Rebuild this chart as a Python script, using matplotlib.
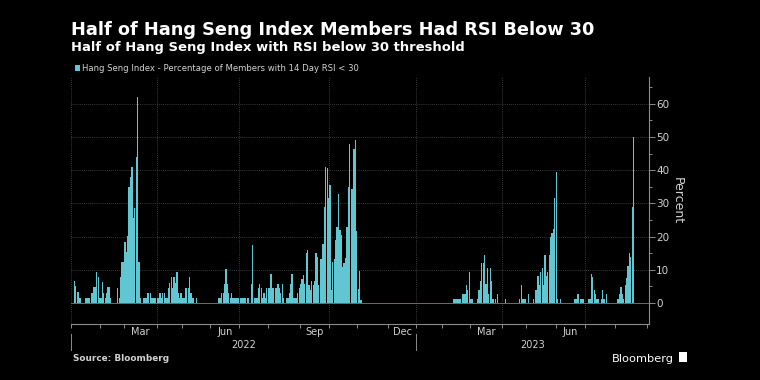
import matplotlib
matplotlib.use("Agg")
import matplotlib.pyplot as plt
import numpy as np
import pandas as pd
from matplotlib.transforms import blended_transform_factory
from matplotlib.patches import Rectangle
from matplotlib.lines import Line2D

# ---------------- data ----------------
hk_holidays = [
    "2022-02-01", "2022-02-02", "2022-02-03", "2022-04-05", "2022-04-15",
    "2022-04-18", "2022-05-02", "2022-05-09", "2022-06-03", "2022-07-01",
    "2022-09-12", "2022-10-04", "2022-12-26", "2022-12-27",
    "2023-01-02", "2023-01-23", "2023-01-24", "2023-01-25", "2023-04-05",
    "2023-04-07", "2023-04-10", "2023-05-01", "2023-05-26", "2023-06-22",
]

jan22 = [0, 0, 6.5, 5, 3.3, 3.3, 1.5, 0, 0, 0, 1.5, 1.5, 1.5, 1.5, 3, 3, 4.7, 4.7, 9.3, 7.8, 1.5]
feb22 = [1.5, 6.3, 3, 1.5, 3, 4.7, 4.7, 1.5, 0, 0, 0, 0, 4.6, 1.5, 7.8, 12.5, 12.5]
mar22 = [18.5, 15.5, 20.3, 35, 38, 41, 25.5, 28.5, 44, 62, 12.2, 1.5, 0, 1.5, 1.5, 1.5, 3, 3, 3,
         1.5, 1.5, 1.5, 1.5]
apr22 = [1.5, 1.5, 3, 1.5, 3, 3, 1.5, 1.5, 4.6, 6.1, 7.7, 4.6, 7.7, 6.1, 9.2, 3, 1.5, 3]
may22 = [1.5, 1.5, 4.6, 4.6, 4.6, 7.7, 3, 1.5, 1.5, 0, 1.5, 0, 0, 0, 0, 0, 0, 0, 0, 0]
jun22 = [0, 0, 0, 0, 0, 0, 1.5, 1.5, 3, 3, 5.8, 10.2, 5.8, 3, 1.5, 3, 1.5, 1.5, 1.5, 1.5, 1.5]
jul22 = [1.5, 1.5, 1.5, 1.5, 1.5, 1.5, 1.5, 0, 5.8, 17.5, 1.5, 1.5, 1.5, 4.5, 5.8, 4.5, 1.5, 3,
         1.5, 4.5]
aug22 = [4.5, 4.5, 8.8, 4.5, 4.5, 4.5, 4.5, 5.8, 4.5, 3, 5.8, 1.5, 0, 1.5, 1.5, 3, 5.8, 8.8, 1.5,
         1.5, 1.5, 3, 4.5]
sep22 = [5.8, 7.3, 8.5, 5.8, 15.2, 16, 5.3, 4, 6.6, 5.3, 6.6, 15, 14, 5.3, 13.4, 13.4, 17.7, 28.8,
         41, 40.6, 31.5]
oct22 = [35.4, 4, 12.4, 13.4, 19, 23, 32.8, 22, 20.4, 10.8, 12, 13.7, 23, 34.8, 48, 34.2, 34.2,
         46.3, 49, 21.7]
nov22 = [4.3, 9.7, 1, 0, 0, 0, 0, 0, 0, 0, 0, 0, 0, 0, 0, 0, 0, 0, 0, 0, 0, 0]
dec22 = [0, 0, 0, 0, 0, 0, 0, 0, 0, 0, 0, 0, 0, 0, 0, 0, 0, 0, 0, 0]
jan23 = [0, 0, 0, 0, 0, 0, 0, 0, 0, 0, 0, 0, 0, 0, 0, 0, 0, 0]
feb23 = [0, 0, 0, 0, 0, 0, 0, 0, 1.3, 1.3, 1.3, 1.3, 1.3, 1.3, 2.7, 2.7, 2.7, 5.3, 4, 9.3]
mar23 = [1.3, 1.3, 0, 0, 0, 1.3, 4, 6.7, 12, 12, 14.6, 5.8, 10.5, 2.7, 10.5, 6.7, 1.3, 0, 1.3,
         2.7, 0, 0, 0]
apr23 = [0, 0, 1.3, 0, 0, 0, 0, 0, 0, 0, 0, 0, 1.3, 5.3, 1.3, 1.3, 1.3]
may23 = [0, 2.7, 0, 0, 0, 1.3, 4, 4, 8, 5.3, 9.3, 10.5, 5.3, 14.6, 8, 9.3, 14.6, 19.8, 21, 22.4,
         31.7]
jun23 = [39.5, 1.3, 0, 1.3, 0, 0, 0, 0, 0, 0, 0, 0, 0, 1.3, 1.3, 2.7, 2.7, 1.3, 1.3, 1.3, 0]
jul23 = [0, 0, 1.3, 1.3, 8.7, 7.7, 4, 2.7, 1.3, 1.3, 0, 1.3, 4, 1.3, 0, 2.7, 0, 0, 0, 0, 0]
aug23 = [0, 0, 1.3, 2.6, 4.8, 2.6, 1.3, 5.3, 7.4, 11, 15, 14, 28.8, 50]

month_labels = ["Mar", "Jun", "Sep", "Dec"]
year_labels = ["2022", "2023"]

title = "Half of Hang Seng Index Members Had RSI Below 30"
subtitle = "Half of Hang Seng Index with RSI below 30 threshold"
legend_label = "Hang Seng Index - Percentage of Members with 14 Day RSI < 30"
source = "Source: Bloomberg"

# ---------------- build ----------------
values = np.array(jan22 + feb22 + mar22 + apr22 + may22 + jun22 + jul22 + aug22 + sep22 + oct22
                  + nov22 + dec22 + jan23 + feb23 + mar23 + apr23 + may23 + jun23 + jul23 + aug23)
dates = pd.bdate_range("2022-01-03", "2023-08-18", freq="C", holidays=hk_holidays)
assert len(dates) == len(values), (len(dates), len(values))
cal = pd.bdate_range("2022-01-03", "2023-09-08", freq="C", holidays=hk_holidays)
x = np.arange(len(values))

BG = "#000000"
BAR = "#5fc6d2"
GRID = "#4d4d4d"
AXC = "#8c8c8c"
TXT = "#d2d2d2"

W, H = 760, 380
fig = plt.figure(figsize=(7.6, 3.8), dpi=100, facecolor=BG)
L, R, T, B = 70.8, 648.6, 77.3, 324.0
ax = fig.add_axes([L / W, 1 - B / H, (R - L) / W, (B - T) / H])
ax.set_facecolor(BG)

ax.bar(x, values, width=0.88, color=BAR, linewidth=0, zorder=3)
ax.axhline(0, color="#3f7f86", lw=0.7, zorder=2)

ax.set_xlim(-0.5, 410.7)
ax.set_ylim(-6.33, 68.0)

# month structure from the trading calendar
per = cal.to_period("M")
months = per.unique()
starts = {m: int(np.argmax(per == m)) for m in months}
ends = {m: int(len(per) - 1 - np.argmax((per == m)[::-1])) for m in months}

for yv in range(10, 70, 10):
    ax.axhline(yv, color=GRID, lw=0.6, ls=(0, (1, 1.5)), zorder=1)
for m in months:
    if m.month in (1, 4, 7, 10):
        ax.axvline(starts[m] - 0.5, color=GRID, lw=0.6, ls=(0, (1, 1.5)), zorder=1)

# x ticks
minor_pos = [starts[m] - 0.5 for m in months if starts[m] - 0.5 <= 410.7]
ax.set_xticks(minor_pos, minor=True)
lab_pos, lab_txt = [], []
for m in months:
    name = m.strftime("%b")
    if name in month_labels and ends[m] <= 410:
        lab_pos.append((starts[m] + ends[m]) / 2)
        lab_txt.append(name)
ax.set_xticks(lab_pos)
ax.set_xticklabels(lab_txt)
ax.tick_params(axis="x", which="major", length=0, pad=2.5, labelsize=7, labelcolor=TXT)
ax.tick_params(axis="x", which="minor", length=3, width=0.7, color=AXC)

# y ticks on the right
ax.yaxis.tick_right()
ax.set_yticks(range(0, 61, 10))
ax.set_yticks(range(5, 66, 10), minor=True)
ax.tick_params(axis="y", which="major", length=4, width=0.7, color=AXC, labelsize=7.5,
               labelcolor=TXT, pad=1.5)
ax.tick_params(axis="y", which="minor", length=2.5, width=0.7, color=AXC)
ax.yaxis.set_label_position("right")
ax.set_ylabel("Percent", color=TXT, fontsize=9, rotation=270, labelpad=10)

for s in ("left", "top"):
    ax.spines[s].set_visible(False)
for s in ("bottom", "right"):
    ax.spines[s].set_color(AXC)
    ax.spines[s].set_linewidth(0.8)

# years
bt = blended_transform_factory(ax.transData, fig.transFigure)
y22 = [i for i, d in enumerate(cal) if d.year == 2022]
ystart23 = y22[-1] + 1
centers = [(-0.5 + ystart23 - 0.5) / 2, (ystart23 - 0.5 + 410.7) / 2]
for cx, lab in zip(centers, year_labels):
    ax.text(cx, 1 - 348 / H, lab, transform=bt, ha="center", va="baseline", fontsize=7,
            color=TXT)
for xv in (-0.5, ystart23 - 0.5):
    fig.add_artist(Line2D([xv, xv], [1 - 334 / H, 1 - 350 / H], transform=bt, color=AXC, lw=0.7))

# ---------------- text ----------------
rend = fig.canvas.get_renderer()


def fit_text(xp, yp, s, width_px, **kw):
    t = fig.text(xp / W, 1 - yp / H, s, fontsize=10, va="baseline", **kw)
    w = t.get_window_extent(rend).width
    t.set_fontsize(10 * width_px / w)
    return t


fit_text(71, 35, title, 525, color="white", fontweight="bold", family="DejaVu Sans")
fit_text(71, 51, subtitle, 392, color="white", fontweight="bold", family="DejaVu Sans")
fig.add_artist(Rectangle((74.5 / W, 1 - 71 / H), 5.5 / W, 6 / H, transform=fig.transFigure,
                         color=BAR, lw=0))
fit_text(82, 71, legend_label, 276, color=TXT, family="DejaVu Sans")
fit_text(73, 361, source, 96, color=TXT, fontweight="bold", family="DejaVu Sans")
fit_text(612, 362, "Bloomberg", 62, color="white", family="DejaVu Sans")
fig.add_artist(Rectangle((679 / W, 1 - 362 / H), 8 / W, 10 / H, transform=fig.transFigure,
                         color="white", lw=0))

fig.savefig("out.png", dpi=100, facecolor=BG)
